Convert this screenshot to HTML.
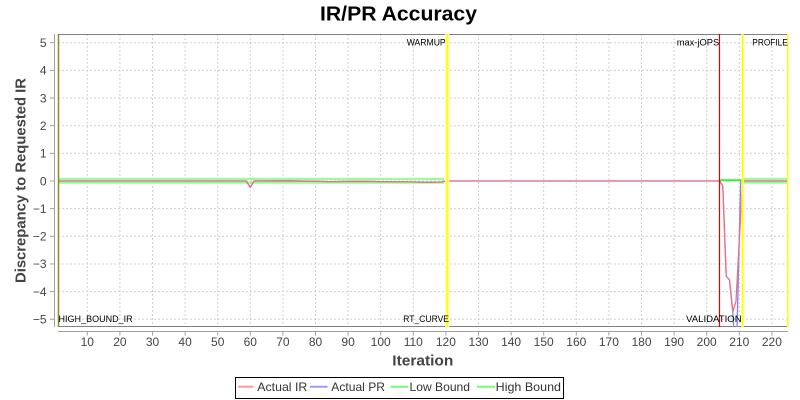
<!DOCTYPE html>
<html>
<head>
<meta charset="utf-8">
<style>
  html, body { margin: 0; padding: 0; background: #ffffff; }
  svg { display: block; }
  text { font-family: "Liberation Sans", "DejaVu Sans", sans-serif; }
</style>
</head>
<body>
<svg width="800" height="400" viewBox="0 0 800 400" xmlns="http://www.w3.org/2000/svg">
  <rect x="0" y="0" width="800" height="400" fill="#ffffff"/>

  <!-- Title -->
  <text x="320" y="20.5" font-size="20" font-weight="bold" fill="#000" textLength="157" lengthAdjust="spacingAndGlyphs">IR/PR Accuracy</text>

  <!-- Plot background -->
  <rect x="58" y="34" width="730" height="293" fill="#ffffff"/>

  <!-- Grid lines -->
  <g stroke="#d0d0d0" stroke-width="1" stroke-dasharray="2,2">
    <line x1="87.3" y1="34" x2="87.3" y2="327"/>
    <line x1="119.9" y1="34" x2="119.9" y2="327"/>
    <line x1="152.5" y1="34" x2="152.5" y2="327"/>
    <line x1="185.1" y1="34" x2="185.1" y2="327"/>
    <line x1="217.7" y1="34" x2="217.7" y2="327"/>
    <line x1="250.3" y1="34" x2="250.3" y2="327"/>
    <line x1="282.9" y1="34" x2="282.9" y2="327"/>
    <line x1="315.5" y1="34" x2="315.5" y2="327"/>
    <line x1="348.1" y1="34" x2="348.1" y2="327"/>
    <line x1="380.7" y1="34" x2="380.7" y2="327"/>
    <line x1="413.3" y1="34" x2="413.3" y2="327"/>
    <line x1="445.9" y1="34" x2="445.9" y2="327"/>
    <line x1="478.5" y1="34" x2="478.5" y2="327"/>
    <line x1="511.1" y1="34" x2="511.1" y2="327"/>
    <line x1="543.7" y1="34" x2="543.7" y2="327"/>
    <line x1="576.3" y1="34" x2="576.3" y2="327"/>
    <line x1="608.9" y1="34" x2="608.9" y2="327"/>
    <line x1="641.5" y1="34" x2="641.5" y2="327"/>
    <line x1="674.1" y1="34" x2="674.1" y2="327"/>
    <line x1="706.7" y1="34" x2="706.7" y2="327"/>
    <line x1="739.3" y1="34" x2="739.3" y2="327"/>
    <line x1="771.9" y1="34" x2="771.9" y2="327"/>

    <line x1="58" y1="42.75" x2="788" y2="42.75"/>
    <line x1="58" y1="70.4" x2="788" y2="70.4"/>
    <line x1="58" y1="98.05" x2="788" y2="98.05"/>
    <line x1="58" y1="125.7" x2="788" y2="125.7"/>
    <line x1="58" y1="153.35" x2="788" y2="153.35"/>
    <line x1="58" y1="181" x2="788" y2="181"/>
    <line x1="58" y1="208.65" x2="788" y2="208.65"/>
    <line x1="58" y1="236.3" x2="788" y2="236.3"/>
    <line x1="58" y1="263.95" x2="788" y2="263.95"/>
    <line x1="58" y1="291.6" x2="788" y2="291.6"/>
    <line x1="58" y1="319.25" x2="788" y2="319.25"/>
  </g>

  <!-- Plot border top/bottom -->
  <line x1="58" y1="34.5" x2="788" y2="34.5" stroke="#808080" stroke-width="1"/>
  <line x1="58" y1="326.5" x2="788" y2="326.5" stroke="#808080" stroke-width="1"/>

  <clipPath id="plotclip"><rect x="58" y="34" width="730" height="293"/></clipPath>

  <g clip-path="url(#plotclip)">
    <!-- Bounds (green band) -->
    <g stroke="#98ff98" stroke-width="2.2" fill="none">
      <line x1="58" y1="179" x2="444" y2="179"/>
      <line x1="58" y1="182.6" x2="444" y2="182.6"/>
      <line x1="743" y1="179" x2="788" y2="179"/>
      <line x1="743" y1="182.6" x2="788" y2="182.6"/>
    </g>
    <line x1="719.7" y1="180.2" x2="742.5" y2="180.2" stroke="#20ff20" stroke-width="1.8"/>

    <!-- Actual PR (blue) -->
    <polyline fill="none" stroke="#8080ff" stroke-width="1.3" stroke-linejoin="round"
      points="58,181 246,181 250.3,187 254,181 290,180.8 330,181.6 360,181.3 395,181.8 410,181.9 430,182.3 441,182 446,181 719.7,181 722.8,186 726.2,276 729.5,280 732.8,312 736,370 740.7,181 788,181"/>

    <!-- Actual IR (red) -->
    <polyline fill="none" stroke="#f07080" stroke-width="1.3" stroke-linejoin="round"
      points="58,181 246,181 250.3,187.5 254,181 290,180.8 330,181.6 360,181.3 395,181.8 410,181.9 430,182.3 441,182 446,181 719.7,181 722.8,186 726.2,276 729.5,280 732.8,311.5 736,301.5 742.5,181 788,181"/>
  </g>

  <!-- Markers -->
  <line x1="58.5" y1="34" x2="58.5" y2="327" stroke="#8c8c20" stroke-width="1.5"/>
  <line x1="447.3" y1="34" x2="447.3" y2="327" stroke="#ffffa0" stroke-width="4"/>
  <line x1="447.3" y1="34" x2="447.3" y2="327" stroke="#ffff00" stroke-width="1.6"/>
  <line x1="719.5" y1="34" x2="719.5" y2="327" stroke="#e00000" stroke-width="1.2"/>
  <line x1="742.6" y1="34" x2="742.6" y2="327" stroke="#ffff70" stroke-width="2.4"/>
  <line x1="742.6" y1="34" x2="742.6" y2="327" stroke="#ffff00" stroke-width="1.3"/>
  <line x1="787.8" y1="34" x2="787.8" y2="327" stroke="#ffff00" stroke-width="1.5"/>

  <!-- Marker labels -->
  <g font-size="9.5" fill="#000">
    <text x="406.7" y="45.7" textLength="39" lengthAdjust="spacingAndGlyphs">WARMUP</text>
    <text x="676.7" y="45.7" textLength="42.6" lengthAdjust="spacingAndGlyphs">max-jOPS</text>
    <text x="752.3" y="45.7" textLength="35.5" lengthAdjust="spacingAndGlyphs">PROFILE</text>
    <text x="58.5" y="322" textLength="74.2" lengthAdjust="spacingAndGlyphs">HIGH_BOUND_IR</text>
    <text x="403.3" y="322" textLength="45.7" lengthAdjust="spacingAndGlyphs">RT_CURVE</text>
    <text x="686" y="322" textLength="55.7" lengthAdjust="spacingAndGlyphs">VALIDATION</text>
  </g>

  <!-- Y axis -->
  <line x1="54.5" y1="34" x2="54.5" y2="327" stroke="#a0a0a0" stroke-width="1"/>
  <g stroke="#a0a0a0" stroke-width="1">
    <line x1="50" y1="42.75" x2="54.5" y2="42.75"/>
    <line x1="50" y1="70.4" x2="54.5" y2="70.4"/>
    <line x1="50" y1="98.05" x2="54.5" y2="98.05"/>
    <line x1="50" y1="125.7" x2="54.5" y2="125.7"/>
    <line x1="50" y1="153.35" x2="54.5" y2="153.35"/>
    <line x1="50" y1="181" x2="54.5" y2="181"/>
    <line x1="50" y1="208.65" x2="54.5" y2="208.65"/>
    <line x1="50" y1="236.3" x2="54.5" y2="236.3"/>
    <line x1="50" y1="263.95" x2="54.5" y2="263.95"/>
    <line x1="50" y1="291.6" x2="54.5" y2="291.6"/>
    <line x1="50" y1="319.25" x2="54.5" y2="319.25"/>
  </g>
  <g font-size="12" fill="#444" text-anchor="end">
    <text x="46.5" y="47">5</text>
    <text x="46.5" y="74.7">4</text>
    <text x="46.5" y="102.3">3</text>
    <text x="46.5" y="130">2</text>
    <text x="46.5" y="157.6">1</text>
    <text x="46.5" y="185.3">0</text>
    <text x="46.5" y="212.9">−1</text>
    <text x="46.5" y="240.6">−2</text>
    <text x="46.5" y="268.2">−3</text>
    <text x="46.5" y="295.9">−4</text>
    <text x="46.5" y="323.5">−5</text>
  </g>

  <!-- X axis -->
  <line x1="58" y1="331.5" x2="788" y2="331.5" stroke="#a0a0a0" stroke-width="1"/>
  <g stroke="#a0a0a0" stroke-width="1">
    <line x1="87.3" y1="331.5" x2="87.3" y2="335.5"/>
    <line x1="119.9" y1="331.5" x2="119.9" y2="335.5"/>
    <line x1="152.5" y1="331.5" x2="152.5" y2="335.5"/>
    <line x1="185.1" y1="331.5" x2="185.1" y2="335.5"/>
    <line x1="217.7" y1="331.5" x2="217.7" y2="335.5"/>
    <line x1="250.3" y1="331.5" x2="250.3" y2="335.5"/>
    <line x1="282.9" y1="331.5" x2="282.9" y2="335.5"/>
    <line x1="315.5" y1="331.5" x2="315.5" y2="335.5"/>
    <line x1="348.1" y1="331.5" x2="348.1" y2="335.5"/>
    <line x1="380.7" y1="331.5" x2="380.7" y2="335.5"/>
    <line x1="413.3" y1="331.5" x2="413.3" y2="335.5"/>
    <line x1="445.9" y1="331.5" x2="445.9" y2="335.5"/>
    <line x1="478.5" y1="331.5" x2="478.5" y2="335.5"/>
    <line x1="511.1" y1="331.5" x2="511.1" y2="335.5"/>
    <line x1="543.7" y1="331.5" x2="543.7" y2="335.5"/>
    <line x1="576.3" y1="331.5" x2="576.3" y2="335.5"/>
    <line x1="608.9" y1="331.5" x2="608.9" y2="335.5"/>
    <line x1="641.5" y1="331.5" x2="641.5" y2="335.5"/>
    <line x1="674.1" y1="331.5" x2="674.1" y2="335.5"/>
    <line x1="706.7" y1="331.5" x2="706.7" y2="335.5"/>
    <line x1="739.3" y1="331.5" x2="739.3" y2="335.5"/>
    <line x1="771.9" y1="331.5" x2="771.9" y2="335.5"/>
  </g>
  <g font-size="12" fill="#444" text-anchor="middle">
    <text x="87.3" y="346">10</text>
    <text x="119.9" y="346">20</text>
    <text x="152.5" y="346">30</text>
    <text x="185.1" y="346">40</text>
    <text x="217.7" y="346">50</text>
    <text x="250.3" y="346">60</text>
    <text x="282.9" y="346">70</text>
    <text x="315.5" y="346">80</text>
    <text x="348.1" y="346">90</text>
    <text x="380.7" y="346">100</text>
    <text x="413.3" y="346">110</text>
    <text x="445.9" y="346">120</text>
    <text x="478.5" y="346">130</text>
    <text x="511.1" y="346">140</text>
    <text x="543.7" y="346">150</text>
    <text x="576.3" y="346">160</text>
    <text x="608.9" y="346">170</text>
    <text x="641.5" y="346">180</text>
    <text x="674.1" y="346">190</text>
    <text x="706.7" y="346">200</text>
    <text x="739.3" y="346">210</text>
    <text x="771.9" y="346">220</text>
  </g>

  <!-- Axis titles -->
  <text x="392.3" y="365.7" font-size="15" font-weight="bold" fill="#444" textLength="61" lengthAdjust="spacingAndGlyphs">Iteration</text>
  <text transform="translate(25.5,283) rotate(-90)" x="0" y="0" font-size="15" font-weight="bold" fill="#444" textLength="205" lengthAdjust="spacingAndGlyphs">Discrepancy to Requested IR</text>

  <!-- Legend -->
  <rect x="235.5" y="377.5" width="328" height="21" fill="#ffffff" stroke="#000" stroke-width="1"/>
  <line x1="238" y1="386.7" x2="253.5" y2="386.7" stroke="#ff9a9a" stroke-width="2"/>
  <line x1="310" y1="386.7" x2="327.5" y2="386.7" stroke="#9a9aff" stroke-width="2"/>
  <line x1="390.7" y1="386.7" x2="408" y2="386.7" stroke="#70ff70" stroke-width="2"/>
  <line x1="477" y1="386.7" x2="495" y2="386.7" stroke="#70ff70" stroke-width="2"/>
  <g font-size="12" fill="#333">
    <text x="257.3" y="391" textLength="50" lengthAdjust="spacingAndGlyphs">Actual IR</text>
    <text x="331.3" y="391" textLength="53.7" lengthAdjust="spacingAndGlyphs">Actual PR</text>
    <text x="409.5" y="391" textLength="60.5" lengthAdjust="spacingAndGlyphs">Low Bound</text>
    <text x="495.7" y="391" textLength="65.3" lengthAdjust="spacingAndGlyphs">High Bound</text>
  </g>
</svg>
</body>
</html>
